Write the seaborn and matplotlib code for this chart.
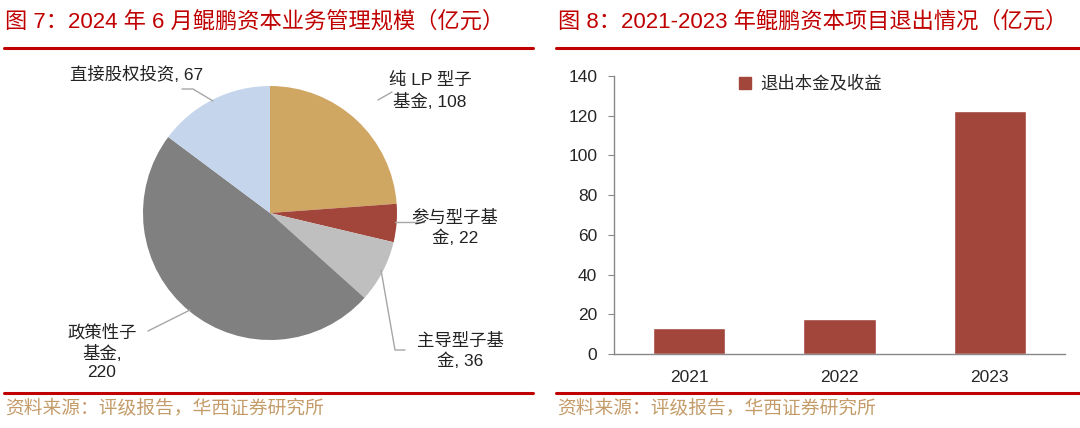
import matplotlib
matplotlib.use("Agg")
import matplotlib.pyplot as plt
import seaborn as sns
import pandas as pd
from matplotlib.lines import Line2D
from matplotlib.patches import Rectangle

sns.set_style("white")
plt.rcParams['font.family'] = ['Liberation Sans', 'Noto Sans CJK SC', 'DejaVu Sans']

# pie data (clockwise from 12 o'clock)
pie_labels = ['纯 LP 型子\n基金, 108', '参与型子基\n金, 22', '主导型子基\n金, 36',
              '政策性子\n基金,\n220', '直接股权投资, 67']
pie_values = [108, 22, 36, 220, 67]
pie_colors = ['#D0A663', '#A2453A', '#BFBFBF', '#808080', '#C5D5EC']

# bar data
years = ['2021', '2022', '2023']
exit_values = [13.0, 17.5, 122.5]

RED = '#C00000'
W, H = 1080, 428


def px(x, y):
    # pixel position (from top-left) to figure fraction
    return x / W, 1 - y / H


fig = plt.figure(figsize=(10.8, 4.28), dpi=100)

# ---- headers / footers
fig.text(*px(5, 22), '图 7：2024 年 6 月鲲鹏资本业务管理规模（亿元）',
         color=RED, fontsize=16, va='center', ha='left')
fig.text(*px(558, 22), '图 8：2021-2023 年鲲鹏资本项目退出情况（亿元）',
         color=RED, fontsize=16, va='center', ha='left')
for x0, x1 in [(4, 533), (556, 1080)]:
    for y in (48, 393):
        fig.add_artist(Line2D([x0 / W, x1 / W], [1 - y / H] * 2, color=RED, lw=2.2))
for x0 in (5, 557):
    fig.text(*px(x0, 408), '资料来源：评级报告，华西证券研究所', color='#C49C6A',
             fontsize=13.5, va='center', ha='left')

# ---- pie
cx, cy, r = 270, 213, 127
ax1 = fig.add_axes([(cx - r) / W, 1 - (cy + r) / H, 2 * r / W, 2 * r / H])
ax1.pie(pie_values, colors=pie_colors, startangle=90, counterclock=False,
        radius=1, wedgeprops=dict(linewidth=0))
ax1.set_xlim(-1, 1)
ax1.set_ylim(-1, 1)
ax1.set_aspect('auto')
ax1.axis('off')


def d(x, y):
    return (x - cx) / r, (cy - y) / r


label_pos = [(430, 91), (455, 228), (460, 351), (102, 352), (137, 74)]
for lab, (lx, ly) in zip(pie_labels, label_pos):
    ax1.text(*d(lx, ly), lab, ha='center', va='center', fontsize=12.5,
             color='#222222', linespacing=1.3, clip_on=False)

leaders = [
    [(378, 100), (392, 92)],
    [(395, 222), (424, 222)],
    [(381, 270), (395, 350), (405, 350)],
    [(148, 331), (190, 310)],
    [(182, 89), (193, 89), (213, 101)],
]
for pts in leaders:
    xs, ys = zip(*[d(*p) for p in pts])
    ax1.add_line(Line2D(xs, ys, color='#A6A6A6', lw=1, clip_on=False))

# ---- bars
ax2 = fig.add_axes([614 / W, 1 - 354 / H, (1065 - 614) / W, (354 - 76) / H])
df = pd.DataFrame({'year': years, 'value': exit_values})
sns.barplot(data=df, x='year', y='value', color='#A2453A', width=0.48,
            saturation=1, ax=ax2)
ax2.set_ylim(0, 140)
ax2.set_xlim(-0.5, 2.5)
ax2.set_yticks(range(0, 141, 20))
ax2.set_xlabel('')
ax2.set_ylabel('')
for s in ['top', 'right']:
    ax2.spines[s].set_visible(False)
for s in ['left', 'bottom']:
    ax2.spines[s].set_color('#888888')
    ax2.spines[s].set_linewidth(1)
ax2.tick_params(axis='y', left=True, length=4, color='#888888', labelsize=12.5, pad=8)
ax2.tick_params(axis='x', bottom=False, labelsize=12.5, pad=8)
ax2.legend(handles=[Rectangle((0, 0), 1, 1, color='#A2453A')], labels=['退出本金及收益'],
           loc='upper center', bbox_to_anchor=(0.435, 1.06), frameon=False,
           fontsize=12.5, handlelength=0.7, handleheight=0.7, handletextpad=0.5)

fig.savefig('out.png', dpi=100)
